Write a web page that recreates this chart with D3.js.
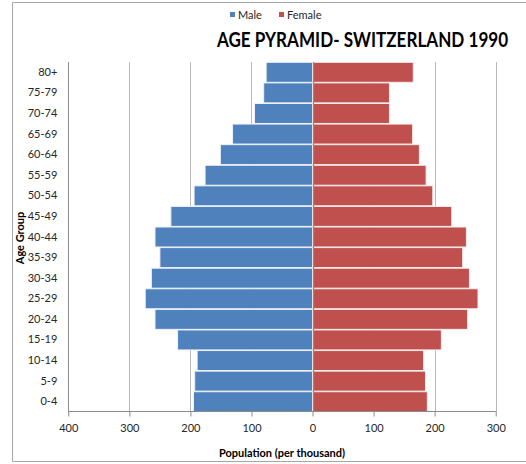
<!DOCTYPE html>
<html>
<head>
<meta charset="utf-8">
<script src="https://cdn.jsdelivr.net/npm/d3@7"></script>
<style>
  html, body { margin: 0; padding: 0; background: #fff; }
  svg { display: block; }
  text { font-family: Lato, "Liberation Sans", sans-serif; }
</style>
</head>
<body>
<svg id="chart" width="526" height="464"></svg>
<script>
const ageGroups = ["80+", "75-79", "70-74", "65-69", "60-64", "55-59", "50-54", "45-49", "40-44", "35-39", "30-34", "25-29", "20-24", "15-19", "10-14", "5-9", "0-4"];
const maleValues = [76, 80, 95, 131, 151, 176, 194, 232, 258, 250, 264, 274, 258, 221, 189, 193, 195];
const femaleValues = [165, 126, 126, 164, 175, 186, 197, 228, 252, 246, 257, 271, 254, 211, 182, 185, 188];
const xTicks = [-400, -300, -200, -100, 0, 100, 200, 300];
const seriesNames = ["Male", "Female"];
const seriesColors = ["#4F81BD", "#C0504D"];

const svg = d3.select("#chart");

// chart border
svg.append("path")
  .attr("d", "M530,2.5 H12.5 V461.5 H530")
  .attr("fill", "none").attr("stroke", "#a6a6a6").attr("stroke-width", 1);

const x = d3.scaleLinear().domain([-400, 300]).range([68.3, 495.7]);
const y = d3.scaleBand().domain(ageGroups).range([62, 412]).paddingInner(0.03).paddingOuter(0.015);

// vertical gridlines
svg.append("g").selectAll("line").data(xTicks.filter(d => d !== 0))
  .join("line")
  .attr("x1", d => Math.round(x(d)) + 0.5).attr("x2", d => Math.round(x(d)) + 0.5)
  .attr("y1", 62).attr("y2", 412)
  .attr("stroke", d => d === -400 ? "#8c8c8c" : "#b8b8b8").attr("stroke-width", 1);

// male bars
svg.append("g").selectAll("rect").data(ageGroups)
  .join("rect")
  .attr("x", (d, i) => x(-maleValues[i]))
  .attr("width", (d, i) => x(0) - x(-maleValues[i]))
  .attr("y", d => y(d))
  .attr("height", y.bandwidth())
  .attr("fill", seriesColors[0])
  .attr("stroke", "#eef2f8").attr("stroke-width", 1);

// female bars
svg.append("g").selectAll("rect").data(ageGroups)
  .join("rect")
  .attr("x", x(0))
  .attr("width", (d, i) => x(femaleValues[i]) - x(0))
  .attr("y", d => y(d))
  .attr("height", y.bandwidth())
  .attr("fill", seriesColors[1])
  .attr("stroke", "#f6eeee").attr("stroke-width", 1);

// center axis line
svg.append("line")
  .attr("x1", Math.round(x(0)) + 0.5).attr("x2", Math.round(x(0)) + 0.5)
  .attr("y1", 62).attr("y2", 412)
  .attr("stroke", "#8a8a8a").attr("stroke-width", 1.2);

// x axis
const xAxis = d3.axisBottom(x).tickValues(xTicks).tickFormat(d => Math.abs(d)).tickSize(5).tickPadding(8);
const gx = svg.append("g").attr("transform", "translate(0,411.5)").call(xAxis);
gx.select(".domain").attr("stroke", "#8a8a8a").attr("d", `M${x(-400)},0H${x(300)}`);
gx.selectAll(".tick line").attr("stroke", "#8a8a8a");
gx.selectAll(".tick text").attr("font-size", "11px").attr("fill", "#262626");

// y axis labels
const yAxis = d3.axisLeft(y).tickSize(0).tickPadding(11);
const gy = svg.append("g").attr("transform", `translate(${x(-400)},0)`).call(yAxis);
gy.select(".domain").remove();
gy.selectAll(".tick text").attr("font-size", "11px").attr("fill", "#262626");

// axis titles
svg.append("text")
  .attr("x", (x(-400) + x(300)) / 2).attr("y", 457)
  .attr("text-anchor", "middle").attr("font-size", "11px").attr("font-weight", "bold")
  .attr("fill", "#000").text("Population (per thousand)");

svg.append("text")
  .attr("transform", `translate(24,238) rotate(-90)`)
  .attr("text-anchor", "middle").attr("font-size", "11px").attr("font-weight", "bold")
  .attr("fill", "#000").text("Age Group");

// title (horizontally condensed to mimic the narrow original face)
svg.append("text")
  .attr("transform", "translate(362.5,47) scale(0.855,1)")
  .attr("text-anchor", "middle")
  .attr("font-size", "20px").attr("font-weight", "bold").attr("fill", "#000")
  .text("AGE PYRAMID- SWITZERLAND 1990");

// legend
const legendX = [230, 279];
const lg = svg.append("g").selectAll("g").data(seriesNames).join("g")
  .attr("transform", (d, i) => `translate(${legendX[i]},0)`);
lg.append("rect").attr("x", 0).attr("y", 12).attr("width", 5).attr("height", 5)
  .attr("fill", (d, i) => seriesColors[i]);
lg.append("text").attr("x", 8).attr("y", 18.5).attr("font-size", "11px").attr("fill", "#262626")
  .text(d => d);
</script>
</body>
</html>
